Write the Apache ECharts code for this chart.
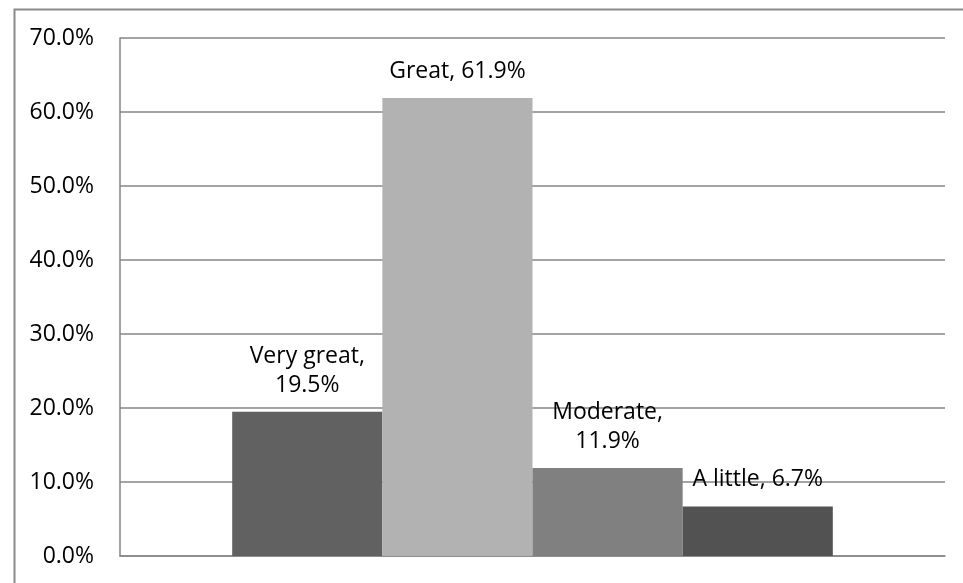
<!DOCTYPE html>
<html>
<head>
<meta charset="utf-8">
<script src="https://cdn.jsdelivr.net/npm/echarts@6/dist/echarts.min.js"></script>
<style>
html,body{margin:0;padding:0;background:#fff;}
#chart{width:963px;height:583px;}
</style>
</head>
<body>
<div id="chart"></div>
<script>
var seriesNames = ['Very great', 'Great', 'Moderate', 'A little'];
var seriesValues = [19.5, 61.9, 11.9, 6.7];
var seriesColors = ['#616161', '#b2b2b2', '#808080', '#525252'];
var wrappedLabels = ['Very great', 'Moderate'];
var yTicks = {min: 0, max: 70, interval: 10};

var chart = echarts.init(document.getElementById('chart'));
var font = '"Open Sans", sans-serif';
var series = seriesNames.map(function (name, i) {
  return {
    name: name,
    type: 'bar',
    data: [seriesValues[i]],
    barGap: '0%',
    barCategoryGap: '27.2%',
    itemStyle: {color: seriesColors[i]},
    label: {
      show: true,
      position: 'top',
      distance: 12,
      color: '#000',
      fontFamily: font,
      fontSize: 23,
      lineHeight: 29,
      align: 'center',
      formatter: function (p) {
        var v = p.value.toFixed(1) + '%';
        return wrappedLabels.indexOf(p.seriesName) >= 0 ? p.seriesName + ',\n' + v : p.seriesName + ', ' + v;
      }
    }
  };
});

chart.setOption({
  animation: false,
  grid: {left: 120, right: 18, top: 38, bottom: 27, containLabel: false},
  xAxis: {
    type: 'category',
    data: [''],
    axisLine: {show: true, lineStyle: {color: '#868686', width: 1.5}},
    axisTick: {show: false},
    axisLabel: {show: false}
  },
  yAxis: {
    type: 'value',
    min: yTicks.min,
    max: yTicks.max,
    interval: yTicks.interval,
    axisLine: {show: true, lineStyle: {color: '#868686', width: 1.5}},
    axisTick: {show: false},
    splitLine: {show: true, lineStyle: {color: '#868686', width: 1.5}},
    axisLabel: {
      color: '#000',
      fontFamily: font,
      fontSize: 23,
      margin: 26,
      formatter: function (v) { return v.toFixed(1) + '%'; }
    }
  },
  graphic: [{
    type: 'rect',
    left: 12, top: 7,
    shape: {width: 2000, height: 2000},
    style: {fill: 'none', stroke: '#8a8a8a', lineWidth: 2},
    silent: true
  }],
  series: series
});
</script>
</body>
</html>
